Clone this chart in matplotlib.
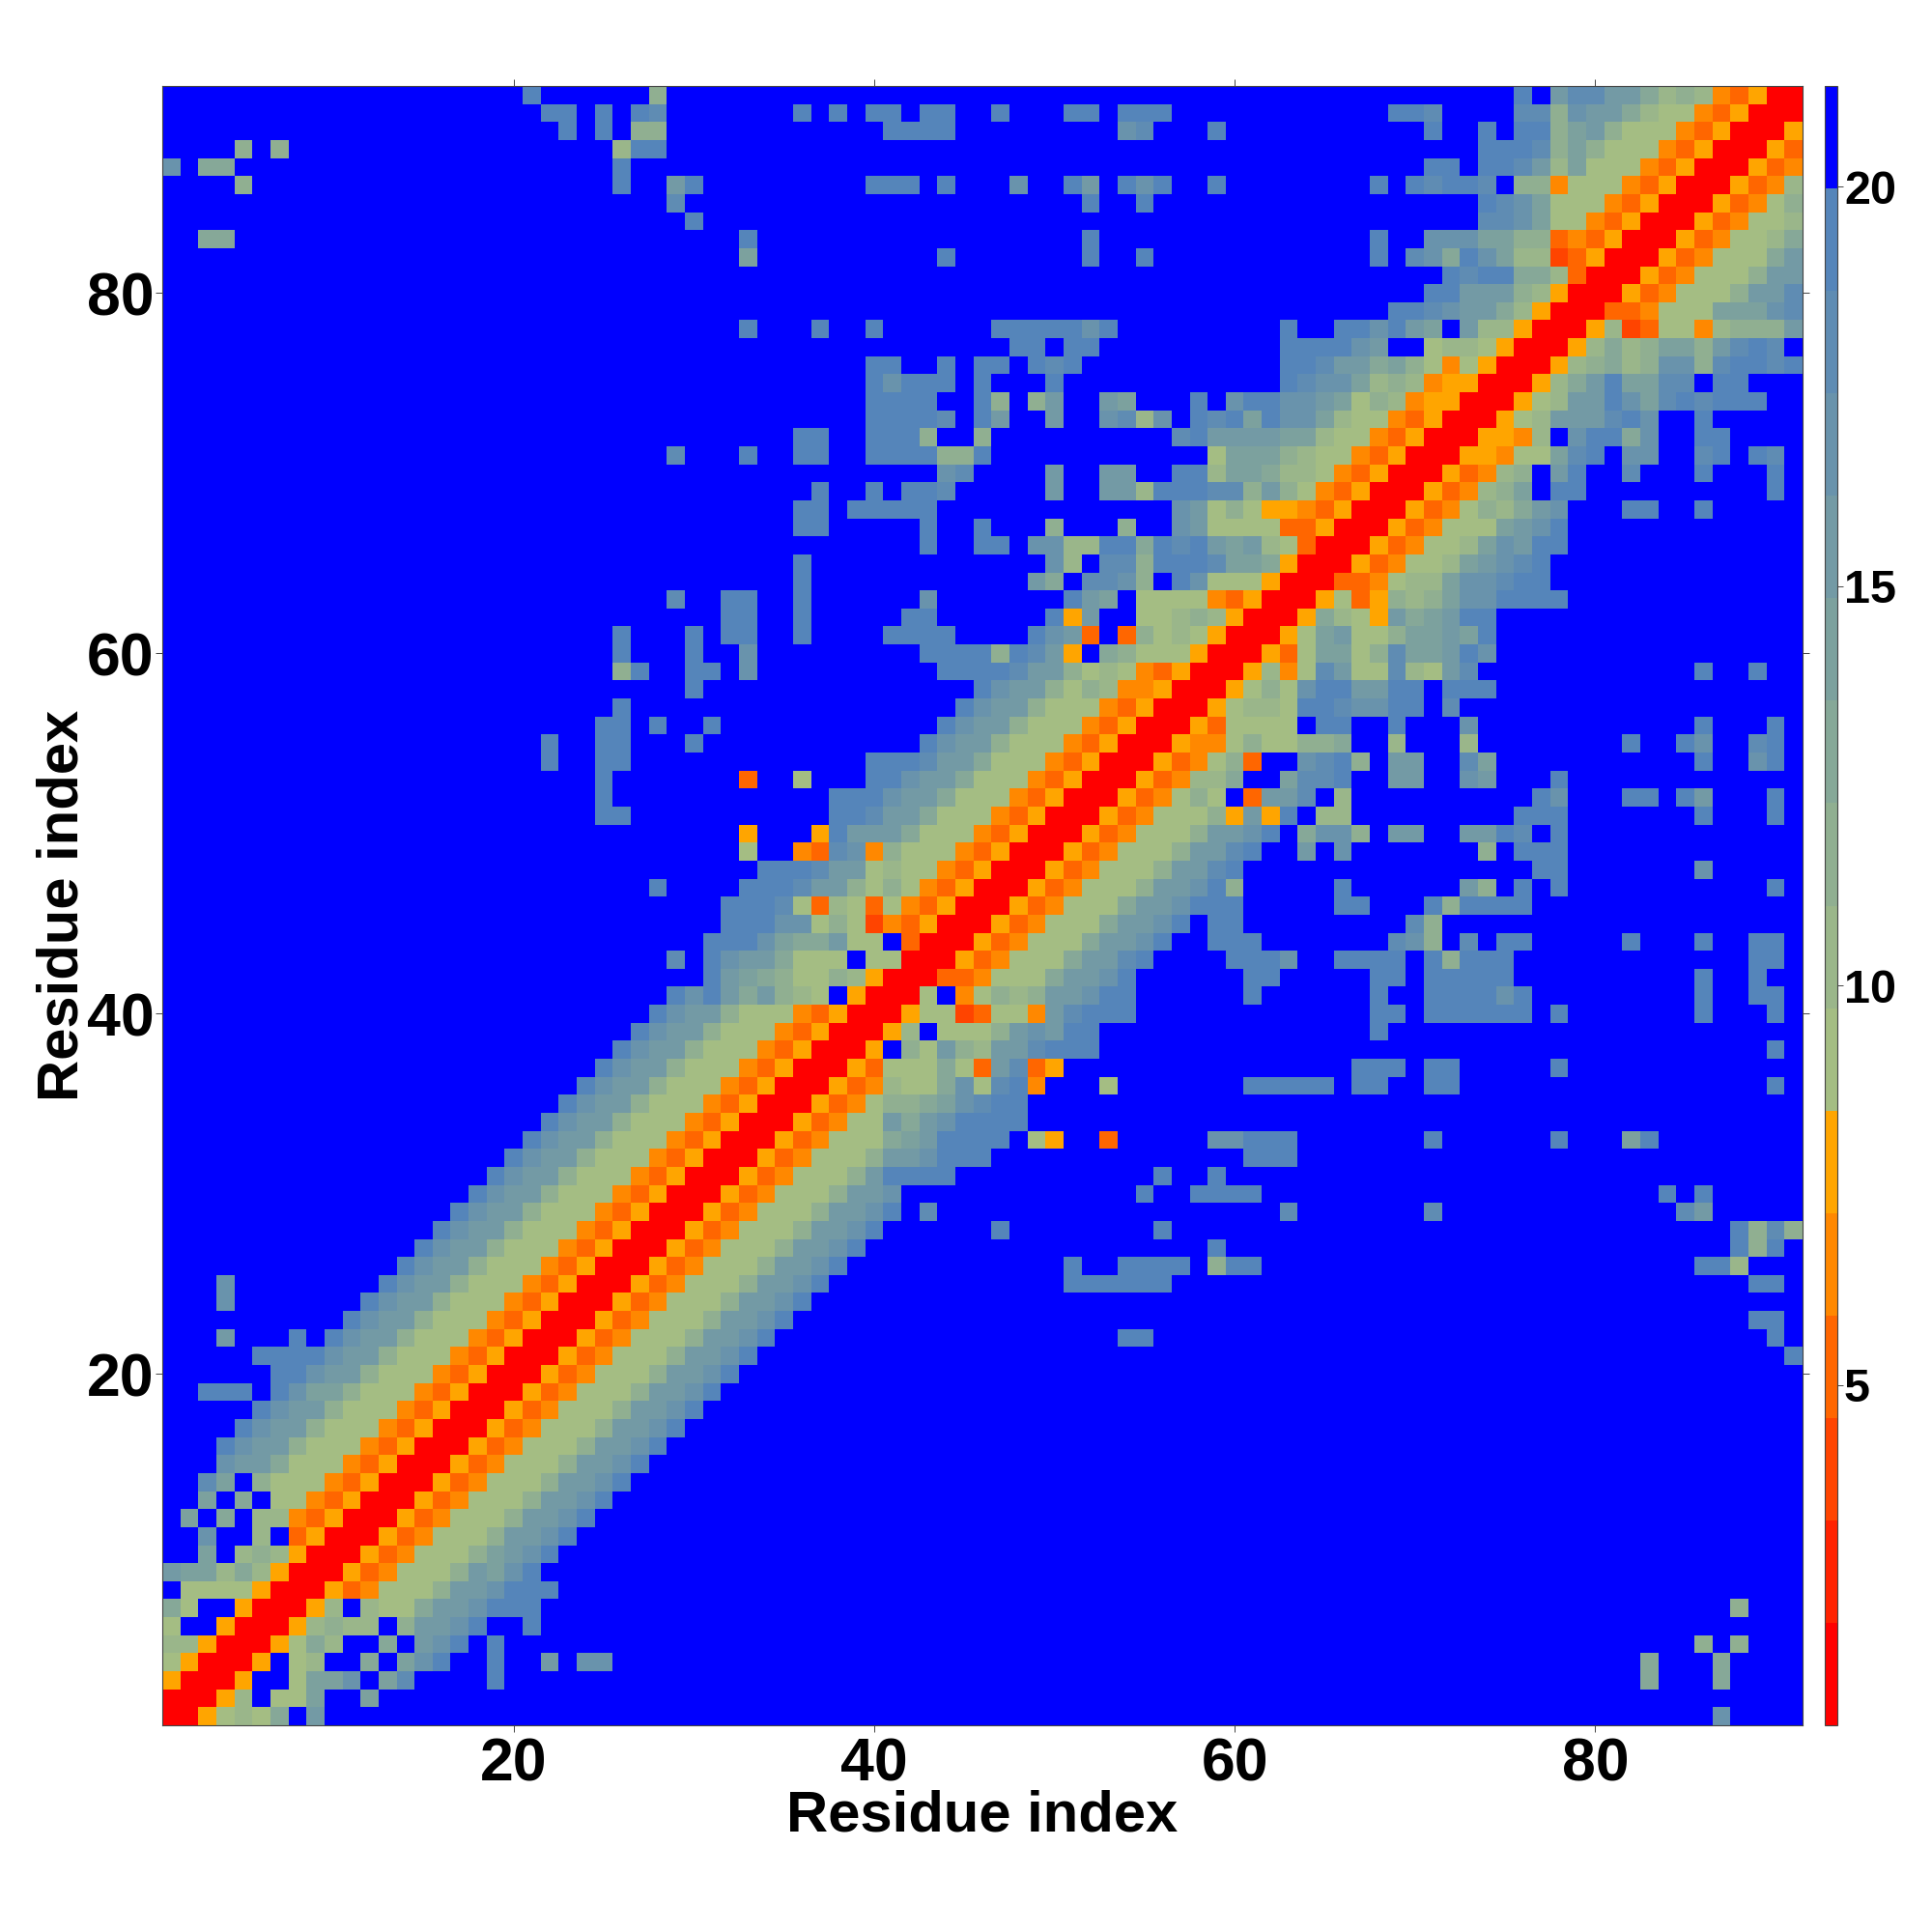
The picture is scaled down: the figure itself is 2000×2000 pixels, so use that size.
import numpy as np
import matplotlib
matplotlib.use("Agg")
import matplotlib.pyplot as plt
from matplotlib.colors import ListedColormap, BoundaryNorm

# levels of the colour bar, '.' is the top blue band
level_chars = "0123456789abcde."
band_edges = np.linspace(0.74, 21.26, 17)
band_colors = ["#ff0000", "#ff2200", "#ff4400", "#ff6600", "#ff8800", "#ffa500",
               "#a4bd83", "#9ab68a", "#90af91", "#86a898", "#7ca19e", "#739aa5",
               "#6993ac", "#5f8cb3", "#5585ba", "#0000ff"]

# map is symmetric, only row >= col is listed: "col:levels col:levels"
rows_1_30 = [
    "1:0", "1:00", "1:500", "1:6500", "1:77500", "1:6..500", "1:96..500",
    "2:6666500", "1:baa797500", "3:a 5:787500", "3:c 6:7 8:3500",
    "2:a 4:9 6:7743500", "3:a 5:9 7:6643500", "3:da 6:866643500",
    "4:cbb966643500", "4:ecbb866643500", "5:ecbb866643500", "6:ecbb866643500",
    "3:eee 7:ecaa866643500", "7:eecbb866643500", "6:eeeecbb866643500",
    "4:b 8:e 10:ecbb866643500", "11:ecbb866643500", "4:c 12:ecbb866643500",
    "4:c 13:ecbb866643500", "14:ecbb866643500", "15:ecbb866643500",
    "16:ecbb866643500", "17:ecbb866643500", "18:ecbb866643500",
]
rows_31_60 = [
    "19:ecbb866643500", "20:ecbb866643500", "21:ecbb866643500", "22:ecbb866643500",
    "23:ecbb866643500", "24:ecbb866643500", "25:ecbb866643500", "26:ecbb866643500",
    "27:ecbb866643500", "28:ecbb866643500", "29:eceb9b876.500", "31:eba986687500",
    "29:d 31:ecbb9666.6600", "31:eeeca99b66.300", "32:eeecc686243500",
    "32:eeed63763643500", "28:e 33:eeedbb868643500", "34:eeedbb676643500",
    "33:6 36:43dc4866643500", "33:5 37:5ebbb966643500", "25:ee 38:eedbb966643500",
    "25:e 38:eeecbb966643500", "25:e 33:3 36:6 40:eecbb966643500",
    "22:e 25:ee 40:eeedbb966643500", "22:e 25:ee 30:e 43:ecbb866643500",
    "25:ee 28:e 31:e 44:ecbb866643500", "26:e 45:ecbb866643500",
    "30:e 46:ecbb868744500", "26:8e 30:ee 33:c 44:eeeedbb867643500",
    "26:e 30:e 33:c 43:eeee8edb5.98666500",
]
rows_61_91 = [
    "26:e 30:e 32:ee 36:e 41:eeee 49:ecb3.38676500",
    "32:ee 36:e 42:ee 50:e5b..66787500",
    "29:d 32:ee 36:e 43:c 51:eba.666643500",
    "36:e 49:b9.ddc8.ec666500",
    "36:e 50:c7.dd8eeedaa9500",
    "43:e 46:ee 49:cc77ee9edebab76300",
    "36:ee 43:e 46:e 50:8 54:8 57:cb666633500",
    "36:ee 39:eeeee 57:cb6865543500",
    "37:e 40:e 42:eed 50:b 53:bb7eeedd8b8643500",
    "44:cd 50:b 53:bb 57:ee7aa977643500",
    "29:d 33:e 36:ee 40:eeee 44:88e 59:6aaa876643500",
    "36:ee 40:eee 43:8 46:8 57:debbbbaa76643500",
    "40:eeeed 46:eb 50:b 53:cd7c 58:edeaecca76643500",
    "40:eeee 46:e8 49:8b 53:ba 58:e.ceeccba68745500",
    "40:ecee 44:e 46:e 50:e 63:edcca78745500",
    "40:ee 44:e 46:ee 49:ede 63:eedbb9a8646500",
    "48:ee 51:ee 63:eeeecb..6776500",
    "33:e 37:e 40:e 47:eeeeece 63:e 66:eeceba.b77500",
    "69:eedcbb97500",
    "71:eebbb87500",
    "72:edee997300",
    "33:a 44:e 52:e 55:e 68:e 70:dc9eca7723500",
    "3:99 33:e 52:e 68:e 71:cccaa88343500",
    "30:e 74:ddca6643500",
    "29:d 52:e 55:e 74:edca66643500",
    "5:8 26:e 29:be 40:eee 44:e 48:c 51:eb 54:ece 59:e 68:e 70:edeed.88466643500",
    "1:c 3:99 26:e 71:ee 74:eedb7a66643500",
    "5:8 7:8 26:7ee 74:eeed8a866643500",
    "23:e 25:e 27:88 41:eeee 54:cd 59:e 71:e 74:e 76:ee8ab866643500",
    "22:ee 25:e 27:ed 36:e 38:e 40:ee 43:ee 47:e 51:ee 54:eee 69:eed 76:dd8cbb976643500",
    "21:e 28:8 76:e.bddbb978743500",
]

tick_values = [20, 40, 60, 80]
cbar_ticks = [5, 10, 15, 20]
axis_label = "Residue index"

n = len(rows_1_30) + len(rows_31_60) + len(rows_61_91)
mids = (band_edges[:-1] + band_edges[1:]) / 2
dist = np.full((n, n), mids[-1])
for r, row in enumerate(rows_1_30 + rows_31_60 + rows_61_91):
    for tok in row.split():
        col, txt = tok.split(":")
        for k, ch in enumerate(txt):
            c = int(col) - 1 + k
            dist[r, c] = dist[c, r] = mids[level_chars.index(ch)]

plt.rcParams["font.family"] = ["Liberation Sans", "DejaVu Sans"]
plt.rcParams["font.weight"] = "bold"

fig = plt.figure(figsize=(20, 20), dpi=100)
ax = fig.add_axes([0.084, 0.107, 0.849, 0.8485])
cax = fig.add_axes([0.9445, 0.107, 0.0065, 0.8485])

cmap = ListedColormap(band_colors)
norm = BoundaryNorm(band_edges, cmap.N)
im = ax.imshow(dist, origin="lower", cmap=cmap, norm=norm, aspect="auto",
               interpolation="nearest", extent=(0.5, n + 0.5, 0.5, n + 0.5))

ax.set_xticks(tick_values)
ax.set_yticks(tick_values)
ax.tick_params(top=True, right=True, length=5, width=0.7, color="#444444", labelsize=45)
ax.tick_params(axis="x", pad=3.5)
ax.tick_params(axis="y", pad=1)
ax.set_xlabel(axis_label, fontsize=43, fontweight="bold", labelpad=-3)
ax.set_ylabel(axis_label, fontsize=43, fontweight="bold", labelpad=-2)
for s in ax.spines.values():
    s.set_linewidth(0.8)
    s.set_color("#444444")

cb = fig.colorbar(im, cax=cax, spacing="proportional", ticks=cbar_ticks)
cb.ax.minorticks_off()
cb.ax.tick_params(length=4, width=0.7, color="#444444", labelsize=35, pad=1)
cb.outline.set_linewidth(0.8)
cb.outline.set_edgecolor("#444444")

fig.savefig("out.png", dpi=100)
